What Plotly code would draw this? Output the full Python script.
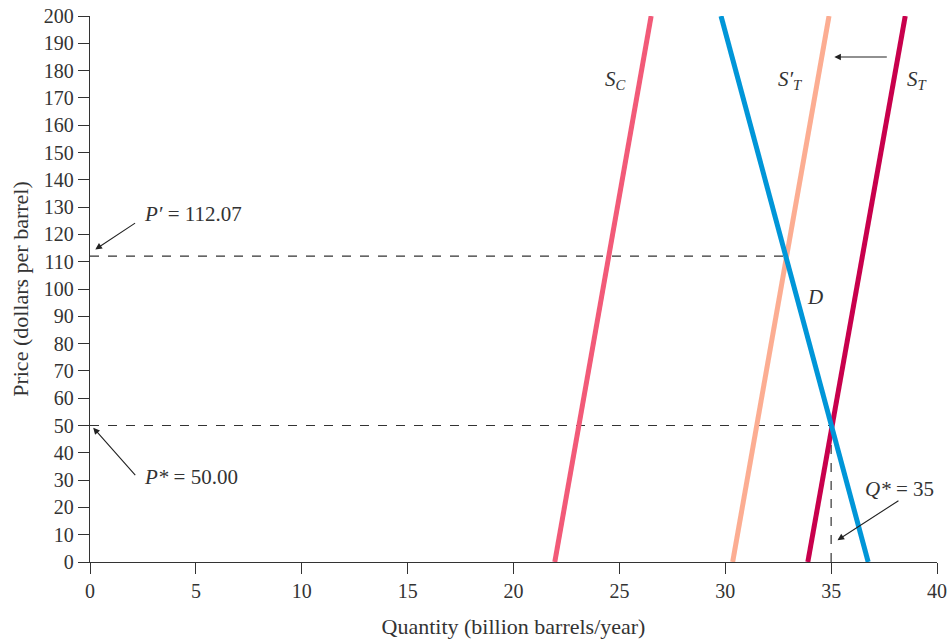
import plotly.graph_objects as go

# Curves: quantity endpoints (billion barrels/year) at price endpoints ($/barrel)
sc_q = [21.95, 26.5]
sc_p = [0, 200]
st_prime_q = [30.35, 34.9]
st_prime_p = [0, 200]
st_q = [33.9, 38.5]
st_p = [0, 200]
d_q = [29.8, 36.75]
d_p = [200, 0]

p_prime = 112.07
p_star = 50.00
q_star = 35
q_prime = 32.85

x_ticks = list(range(0, 41, 5))
y_ticks = list(range(0, 201, 10))

FONT = "Liberation Serif"
INK = "#333333"

fig = go.Figure()

# Dashed guide lines
for xs, ys in [([0, q_prime], [p_prime, p_prime]),
               ([0, q_star], [p_star, p_star]),
               ([q_star, q_star], [0, p_star])]:
    fig.add_trace(go.Scatter(x=xs, y=ys, mode="lines",
                             line=dict(color=INK, width=1.2, dash="dash"), hoverinfo="skip"))

# Curves
fig.add_trace(go.Scatter(x=sc_q, y=sc_p, mode="lines", line=dict(color="#F25A78", width=5)))
fig.add_trace(go.Scatter(x=st_prime_q, y=st_prime_p, mode="lines", line=dict(color="#FCAD92", width=5)))
fig.add_trace(go.Scatter(x=st_q, y=st_p, mode="lines", line=dict(color="#C8004C", width=5)))
fig.add_trace(go.Scatter(x=d_q, y=d_p, mode="lines", line=dict(color="#0096D8", width=5)))

tf = dict(family=FONT, size=21, color=INK)
ann = []
# Curve labels
ann.append(dict(x=24.8, y=176.5, text="<i>S</i><sub><i>C</i></sub>", showarrow=False, font=tf))
ann.append(dict(x=33.1, y=176.5, text="<i>S′</i><sub><i>T</i></sub>", showarrow=False, font=tf))
ann.append(dict(x=39.1, y=176.5, text="<i>S</i><sub><i>T</i></sub>", showarrow=False, font=tf))
ann.append(dict(x=34.25, y=97, text="<i>D</i>", showarrow=False, font=tf))

# Text labels
ann.append(dict(x=2.45, y=127.3, text="<i>P′</i> = 112.07", showarrow=False, xanchor="left", font=tf))
ann.append(dict(x=2.45, y=31.3, text="<i>P*</i> = 50.00", showarrow=False, xanchor="left", font=tf))
ann.append(dict(x=38.25, y=26.8, text="<i>Q*</i> = 35", showarrow=False, font=tf))

# Arrows
def arrow(x, y, ax, ay):
    return dict(x=x, y=y, ax=ax, ay=ay, xref="x", yref="y", axref="x", ayref="y",
                text="", showarrow=True, arrowhead=2, arrowsize=1.2, arrowwidth=1.1,
                arrowcolor="#222222")

ann.append(arrow(0.25, 114.5, 2.2, 124.5))
ann.append(arrow(0.15, 49.2, 2.2, 31.3))
ann.append(arrow(35.3, 8.0, 38.25, 22.8))
ann.append(arrow(35.15, 185, 37.7, 185))

axis_common = dict(showgrid=False, zeroline=False, showline=True, linecolor=INK, linewidth=1.3,
                   ticks="outside", ticklen=11, tickwidth=1.3, tickcolor=INK, automargin=False,
                   tickfont=dict(family=FONT, size=20, color=INK))

fig.update_layout(
    width=951, height=642,
    margin=dict(l=90, r=14, t=16, b=80, autoexpand=False),
    paper_bgcolor="white", plot_bgcolor="white",
    showlegend=False,
    annotations=ann,
    xaxis=dict(range=[0, 40], tickvals=x_ticks, **axis_common,
               title=dict(text="Quantity (billion barrels/year)",
                          font=dict(family=FONT, size=22, color=INK), standoff=17)),
    yaxis=dict(range=[0, 200], tickvals=y_ticks, **axis_common,
               title=dict(text="Price (dollars per barrel)",
                          font=dict(family=FONT, size=22, color=INK), standoff=9)),
)

fig.write_html("out.html", config={"displayModeBar": False},
               post_script="document.body.style.margin='0';document.body.style.overflow='hidden';")
